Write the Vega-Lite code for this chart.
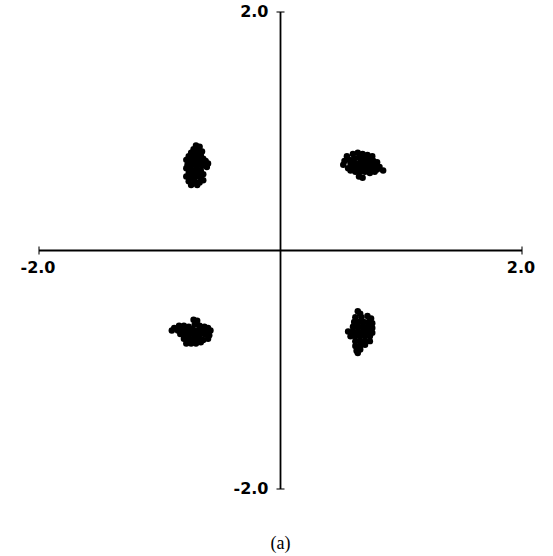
{
  "$schema": "https://vega.github.io/schema/vega-lite/v6.json",
  "width": 483,
  "height": 477,
  "autosize": "none",
  "padding": {"left": 39, "top": 12, "right": 31, "bottom": 67},
  "background": "white",
  "config": {"view": {"stroke": null}},
  "title": {"text": "(a)", "orient": "bottom", "offset": 38, "font": "Liberation Serif", "fontWeight": "normal", "fontSize": 18, "color": "black", "anchor": "middle"},
  "datasets": {
    "points": [
      {"x": -0.70, "y": 0.88}, {"x": -0.67, "y": 0.87}, {"x": -0.72, "y": 0.85}, {"x": -0.68, "y": 0.84}, {"x": -0.65, "y": 0.83},
      {"x": -0.74, "y": 0.82}, {"x": -0.70, "y": 0.81}, {"x": -0.66, "y": 0.80}, {"x": -0.76, "y": 0.79}, {"x": -0.72, "y": 0.78},
      {"x": -0.68, "y": 0.78}, {"x": -0.64, "y": 0.77}, {"x": -0.78, "y": 0.76}, {"x": -0.74, "y": 0.75}, {"x": -0.70, "y": 0.75},
      {"x": -0.66, "y": 0.74}, {"x": -0.62, "y": 0.75}, {"x": -0.60, "y": 0.73}, {"x": -0.77, "y": 0.72}, {"x": -0.73, "y": 0.72},
      {"x": -0.69, "y": 0.71}, {"x": -0.65, "y": 0.71}, {"x": -0.61, "y": 0.70}, {"x": -0.78, "y": 0.69}, {"x": -0.74, "y": 0.68},
      {"x": -0.70, "y": 0.68}, {"x": -0.66, "y": 0.67}, {"x": -0.76, "y": 0.65}, {"x": -0.72, "y": 0.65}, {"x": -0.68, "y": 0.64},
      {"x": -0.64, "y": 0.64}, {"x": -0.78, "y": 0.62}, {"x": -0.74, "y": 0.61}, {"x": -0.70, "y": 0.62}, {"x": -0.66, "y": 0.61},
      {"x": -0.76, "y": 0.58}, {"x": -0.71, "y": 0.58}, {"x": -0.67, "y": 0.57}, {"x": -0.74, "y": 0.55}, {"x": -0.69, "y": 0.55},
      {"x": -0.64, "y": 0.59},
      {"x": 0.55, "y": 0.79}, {"x": 0.60, "y": 0.81}, {"x": 0.64, "y": 0.82}, {"x": 0.68, "y": 0.81}, {"x": 0.72, "y": 0.80},
      {"x": 0.76, "y": 0.79}, {"x": 0.53, "y": 0.75}, {"x": 0.57, "y": 0.76}, {"x": 0.61, "y": 0.77}, {"x": 0.65, "y": 0.78},
      {"x": 0.69, "y": 0.77}, {"x": 0.73, "y": 0.76}, {"x": 0.77, "y": 0.75}, {"x": 0.80, "y": 0.74}, {"x": 0.52, "y": 0.72},
      {"x": 0.58, "y": 0.73}, {"x": 0.62, "y": 0.73}, {"x": 0.66, "y": 0.74}, {"x": 0.70, "y": 0.73}, {"x": 0.74, "y": 0.72},
      {"x": 0.78, "y": 0.71}, {"x": 0.82, "y": 0.70}, {"x": 0.56, "y": 0.69}, {"x": 0.60, "y": 0.70}, {"x": 0.64, "y": 0.70},
      {"x": 0.68, "y": 0.70}, {"x": 0.72, "y": 0.69}, {"x": 0.76, "y": 0.68}, {"x": 0.80, "y": 0.68}, {"x": 0.85, "y": 0.67},
      {"x": 0.62, "y": 0.66}, {"x": 0.66, "y": 0.66}, {"x": 0.70, "y": 0.66}, {"x": 0.74, "y": 0.65}, {"x": 0.78, "y": 0.66},
      {"x": 0.65, "y": 0.62}, {"x": 0.68, "y": 0.61}, {"x": 0.58, "y": 0.67},
      {"x": -0.72, "y": -0.58}, {"x": -0.69, "y": -0.59}, {"x": -0.71, "y": -0.62}, {"x": -0.88, "y": -0.65}, {"x": -0.84, "y": -0.63},
      {"x": -0.80, "y": -0.63}, {"x": -0.76, "y": -0.64}, {"x": -0.67, "y": -0.63}, {"x": -0.63, "y": -0.64}, {"x": -0.60, "y": -0.65},
      {"x": -0.90, "y": -0.67}, {"x": -0.85, "y": -0.67}, {"x": -0.81, "y": -0.67}, {"x": -0.77, "y": -0.67}, {"x": -0.73, "y": -0.66},
      {"x": -0.69, "y": -0.67}, {"x": -0.65, "y": -0.67}, {"x": -0.61, "y": -0.68}, {"x": -0.58, "y": -0.67}, {"x": -0.83, "y": -0.70},
      {"x": -0.79, "y": -0.70}, {"x": -0.75, "y": -0.70}, {"x": -0.71, "y": -0.70}, {"x": -0.67, "y": -0.71}, {"x": -0.63, "y": -0.70},
      {"x": -0.59, "y": -0.71}, {"x": -0.80, "y": -0.74}, {"x": -0.76, "y": -0.74}, {"x": -0.72, "y": -0.74}, {"x": -0.68, "y": -0.74},
      {"x": -0.64, "y": -0.75}, {"x": -0.60, "y": -0.74}, {"x": -0.78, "y": -0.78}, {"x": -0.74, "y": -0.78}, {"x": -0.70, "y": -0.78},
      {"x": -0.66, "y": -0.77},
      {"x": 0.64, "y": -0.51}, {"x": 0.66, "y": -0.53}, {"x": 0.62, "y": -0.56}, {"x": 0.67, "y": -0.56}, {"x": 0.72, "y": -0.55},
      {"x": 0.75, "y": -0.57}, {"x": 0.61, "y": -0.60}, {"x": 0.65, "y": -0.60}, {"x": 0.69, "y": -0.60}, {"x": 0.73, "y": -0.60},
      {"x": 0.76, "y": -0.61}, {"x": 0.60, "y": -0.64}, {"x": 0.64, "y": -0.64}, {"x": 0.68, "y": -0.64}, {"x": 0.72, "y": -0.64},
      {"x": 0.76, "y": -0.65}, {"x": 0.56, "y": -0.68}, {"x": 0.60, "y": -0.68}, {"x": 0.64, "y": -0.68}, {"x": 0.68, "y": -0.68},
      {"x": 0.72, "y": -0.68}, {"x": 0.76, "y": -0.69}, {"x": 0.58, "y": -0.72}, {"x": 0.62, "y": -0.72}, {"x": 0.66, "y": -0.72},
      {"x": 0.70, "y": -0.72}, {"x": 0.74, "y": -0.72}, {"x": 0.62, "y": -0.76}, {"x": 0.66, "y": -0.76}, {"x": 0.70, "y": -0.76},
      {"x": 0.74, "y": -0.76}, {"x": 0.62, "y": -0.80}, {"x": 0.66, "y": -0.80}, {"x": 0.70, "y": -0.79}, {"x": 0.63, "y": -0.84},
      {"x": 0.66, "y": -0.83}, {"x": 0.64, "y": -0.86}
    ],
    "axes": [
      {"x": -2, "y": 0, "x2": 2, "y2": 0},
      {"x": 0, "y": -2, "x2": 0, "y2": 2}
    ],
    "xends": [
      {"x": -2, "y": 0, "label": "-2.0"},
      {"x": 2, "y": 0, "label": "2.0"}
    ],
    "yends": [
      {"x": 0, "y": 2, "label": "2.0"},
      {"x": 0, "y": -2, "label": "-2.0"}
    ]
  },
  "layer": [
    {
      "data": {"name": "axes"},
      "mark": {"type": "rule", "color": "black", "strokeWidth": 1.8},
      "encoding": {
        "x": {"field": "x", "type": "quantitative", "scale": {"domain": [-2, 2], "nice": false, "zero": false}, "axis": null},
        "y": {"field": "y", "type": "quantitative", "scale": {"domain": [-2, 2], "nice": false, "zero": false}, "axis": null},
        "x2": {"field": "x2"},
        "y2": {"field": "y2"}
      }
    },
    {
      "data": {"name": "xends"},
      "mark": {"type": "tick", "orient": "vertical", "color": "black", "size": 8, "thickness": 1.5},
      "encoding": {
        "x": {"field": "x", "type": "quantitative"},
        "y": {"field": "y", "type": "quantitative"}
      }
    },
    {
      "data": {"name": "yends"},
      "mark": {"type": "tick", "orient": "horizontal", "color": "black", "size": 8, "thickness": 1.5},
      "encoding": {
        "x": {"field": "x", "type": "quantitative"},
        "y": {"field": "y", "type": "quantitative"}
      }
    },
    {
      "data": {"name": "xends"},
      "mark": {"type": "text", "font": "DejaVu Sans", "fontWeight": "bold", "fontSize": 16, "color": "black", "align": "center", "baseline": "middle", "dy": 17, "dx": -1},
      "encoding": {
        "x": {"field": "x", "type": "quantitative"},
        "y": {"field": "y", "type": "quantitative"},
        "text": {"field": "label"}
      }
    },
    {
      "data": {"name": "yends"},
      "mark": {"type": "text", "font": "DejaVu Sans", "fontWeight": "bold", "fontSize": 16, "color": "black", "align": "right", "baseline": "middle", "dx": -12},
      "encoding": {
        "x": {"field": "x", "type": "quantitative"},
        "y": {"field": "y", "type": "quantitative"},
        "text": {"field": "label"}
      }
    },
    {
      "data": {"name": "points"},
      "mark": {"type": "circle", "color": "black", "opacity": 1, "size": 42},
      "encoding": {
        "x": {"field": "x", "type": "quantitative"},
        "y": {"field": "y", "type": "quantitative"}
      }
    }
  ]
}
